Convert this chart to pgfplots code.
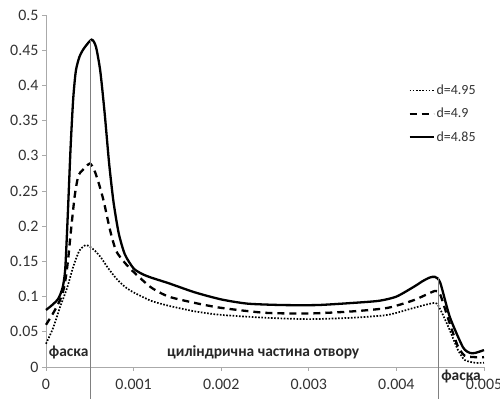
\documentclass[border=0pt]{standalone}
\usepackage{pgfplots}
\pgfplotsset{compat=1.18}
\usepackage{fontspec}
\setmainfont{Carlito}
\definecolor{axgray}{RGB}{170,170,170}
\definecolor{vgray}{RGB}{128,128,128}
\definecolor{txt}{RGB}{50,50,50}
\begin{document}
\begin{tikzpicture}
\begin{axis}[
  name=ax, at={(0,0)}, anchor=south west,
  scale only axis, width=438bp, height=352bp,
  xmin=0, xmax=0.005, ymin=0, ymax=0.5,
  axis x line=bottom, axis y line=left,
  axis line style={axgray, line width=0.8bp, -},
  tick align=outside, major tick length=4bp,
  tick style={axgray, line width=0.8bp},
  scaled x ticks=false, scaled y ticks=false,
  xtick={0,0.001,0.002,0.003,0.004,0.005},
  xticklabels={0,0.001,0.002,0.003,0.004,0.005},
  ytick={0,0.05,0.1,0.15,0.2,0.25,0.3,0.35,0.4,0.45,0.5},
  yticklabels={0,0.05,0.1,0.15,0.2,0.25,0.3,0.35,0.4,0.45,0.5},
  /pgf/number format/assume math mode=true,
  ticklabel style={font=\fontsize{16}{18}\selectfont, text=txt},
  xticklabel style={yshift=-5bp},
  clip=false,
  legend style={draw=none, fill=none, at={(0.82,0.813)}, anchor=north west,
    font=\fontsize{14}{16}\selectfont, row sep=8bp, text=txt},
  legend cell align=left,
  legend image code/.code={\draw[#1] (0bp,0bp) -- (24bp,0bp);},
]
\addplot[black, line width=1.7bp, dash pattern=on 1.6bp off 1.6bp, smooth, tension=0.4] coordinates {
(0,0.033) (0.00008,0.055) (0.00016,0.085) (0.00024,0.112) (0.00031,0.142)
(0.00038,0.165) (0.00045,0.173) (0.0005,0.171) (0.00056,0.165) (0.00063,0.155)
(0.0007,0.142) (0.0008,0.126) (0.0009,0.114) (0.001,0.106) (0.0012,0.094)
(0.0014,0.087) (0.0017,0.079) (0.002,0.074) (0.0025,0.07) (0.003,0.068)
(0.0035,0.07) (0.0039,0.074) (0.0042,0.084) (0.00444,0.091) (0.0045,0.082)
(0.0046,0.055) (0.0047,0.025) (0.00478,0.01) (0.0049,0.006) (0.005,0.006)
};
\addlegendentry{d=4.95}
\addplot[black, line width=2.3bp, dash pattern=on 7bp off 5bp, smooth, tension=0.4] coordinates {
(0,0.06) (0.00008,0.076) (0.00016,0.095) (0.00021,0.115) (0.00025,0.15)
(0.00029,0.2) (0.00033,0.245) (0.00037,0.272) (0.00042,0.28) (0.0005,0.289)
(0.00055,0.28) (0.0006,0.262) (0.00066,0.235) (0.00073,0.195) (0.0008,0.165)
(0.0009,0.148) (0.001,0.135) (0.0012,0.113) (0.0014,0.1) (0.0017,0.091)
(0.002,0.084) (0.0025,0.077) (0.003,0.076) (0.0035,0.079) (0.0039,0.084)
(0.0042,0.095) (0.00444,0.108) (0.0045,0.103) (0.0046,0.065) (0.0047,0.03)
(0.00478,0.016) (0.0049,0.014) (0.005,0.014)
};
\addlegendentry{d=4.9}
\addplot[black, line width=2.3bp, smooth, tension=0.4] coordinates {
(0,0.081) (0.00007,0.088) (0.00014,0.097) (0.00019,0.113) (0.00022,0.14)
(0.00025,0.22) (0.00028,0.31) (0.00031,0.38) (0.00034,0.42) (0.00038,0.44)
(0.00043,0.452) (0.00052,0.465) (0.00057,0.455) (0.00062,0.42) (0.00067,0.36)
(0.00072,0.29) (0.00077,0.235) (0.00083,0.19) (0.0009,0.16) (0.001,0.14)
(0.0011,0.132) (0.0012,0.127) (0.0014,0.119) (0.0017,0.106) (0.002,0.096)
(0.0023,0.09) (0.0027,0.088) (0.0031,0.088) (0.0035,0.091) (0.0038,0.094)
(0.004,0.1) (0.0042,0.114) (0.0043,0.122) (0.00438,0.127) (0.00444,0.128)
(0.0045,0.12) (0.00461,0.071) (0.00476,0.028) (0.00484,0.02) (0.0049,0.02)
(0.005,0.024)
};
\addlegendentry{d=4.85}
\addplot[vgray, line width=1.2bp, forget plot] coordinates {(0.00051,0.465) (0.00051,-0.046)};
\addplot[vgray, line width=1.2bp, forget plot] coordinates {(0.00448,0.128) (0.00448,-0.046)};
\node[font=\bfseries\fontsize{15.5}{17}\selectfont, text=black!85, anchor=west, inner sep=0pt] at (axis cs:0.00003,0.021) {фаска};
\node[font=\bfseries\fontsize{15.5}{17}\selectfont, text=black!85, inner sep=0pt] at (axis cs:0.00248,0.021) {циліндрична частина отвору};
\node[font=\bfseries\fontsize{15.5}{17}\selectfont, text=black!85, anchor=west, inner sep=0pt] at (axis cs:0.00451,-0.013) {фаска};
\end{axis}
\pgfresetboundingbox
\path (-46bp,-32bp) rectangle (454bp,367bp);
\end{tikzpicture}
\end{document}
